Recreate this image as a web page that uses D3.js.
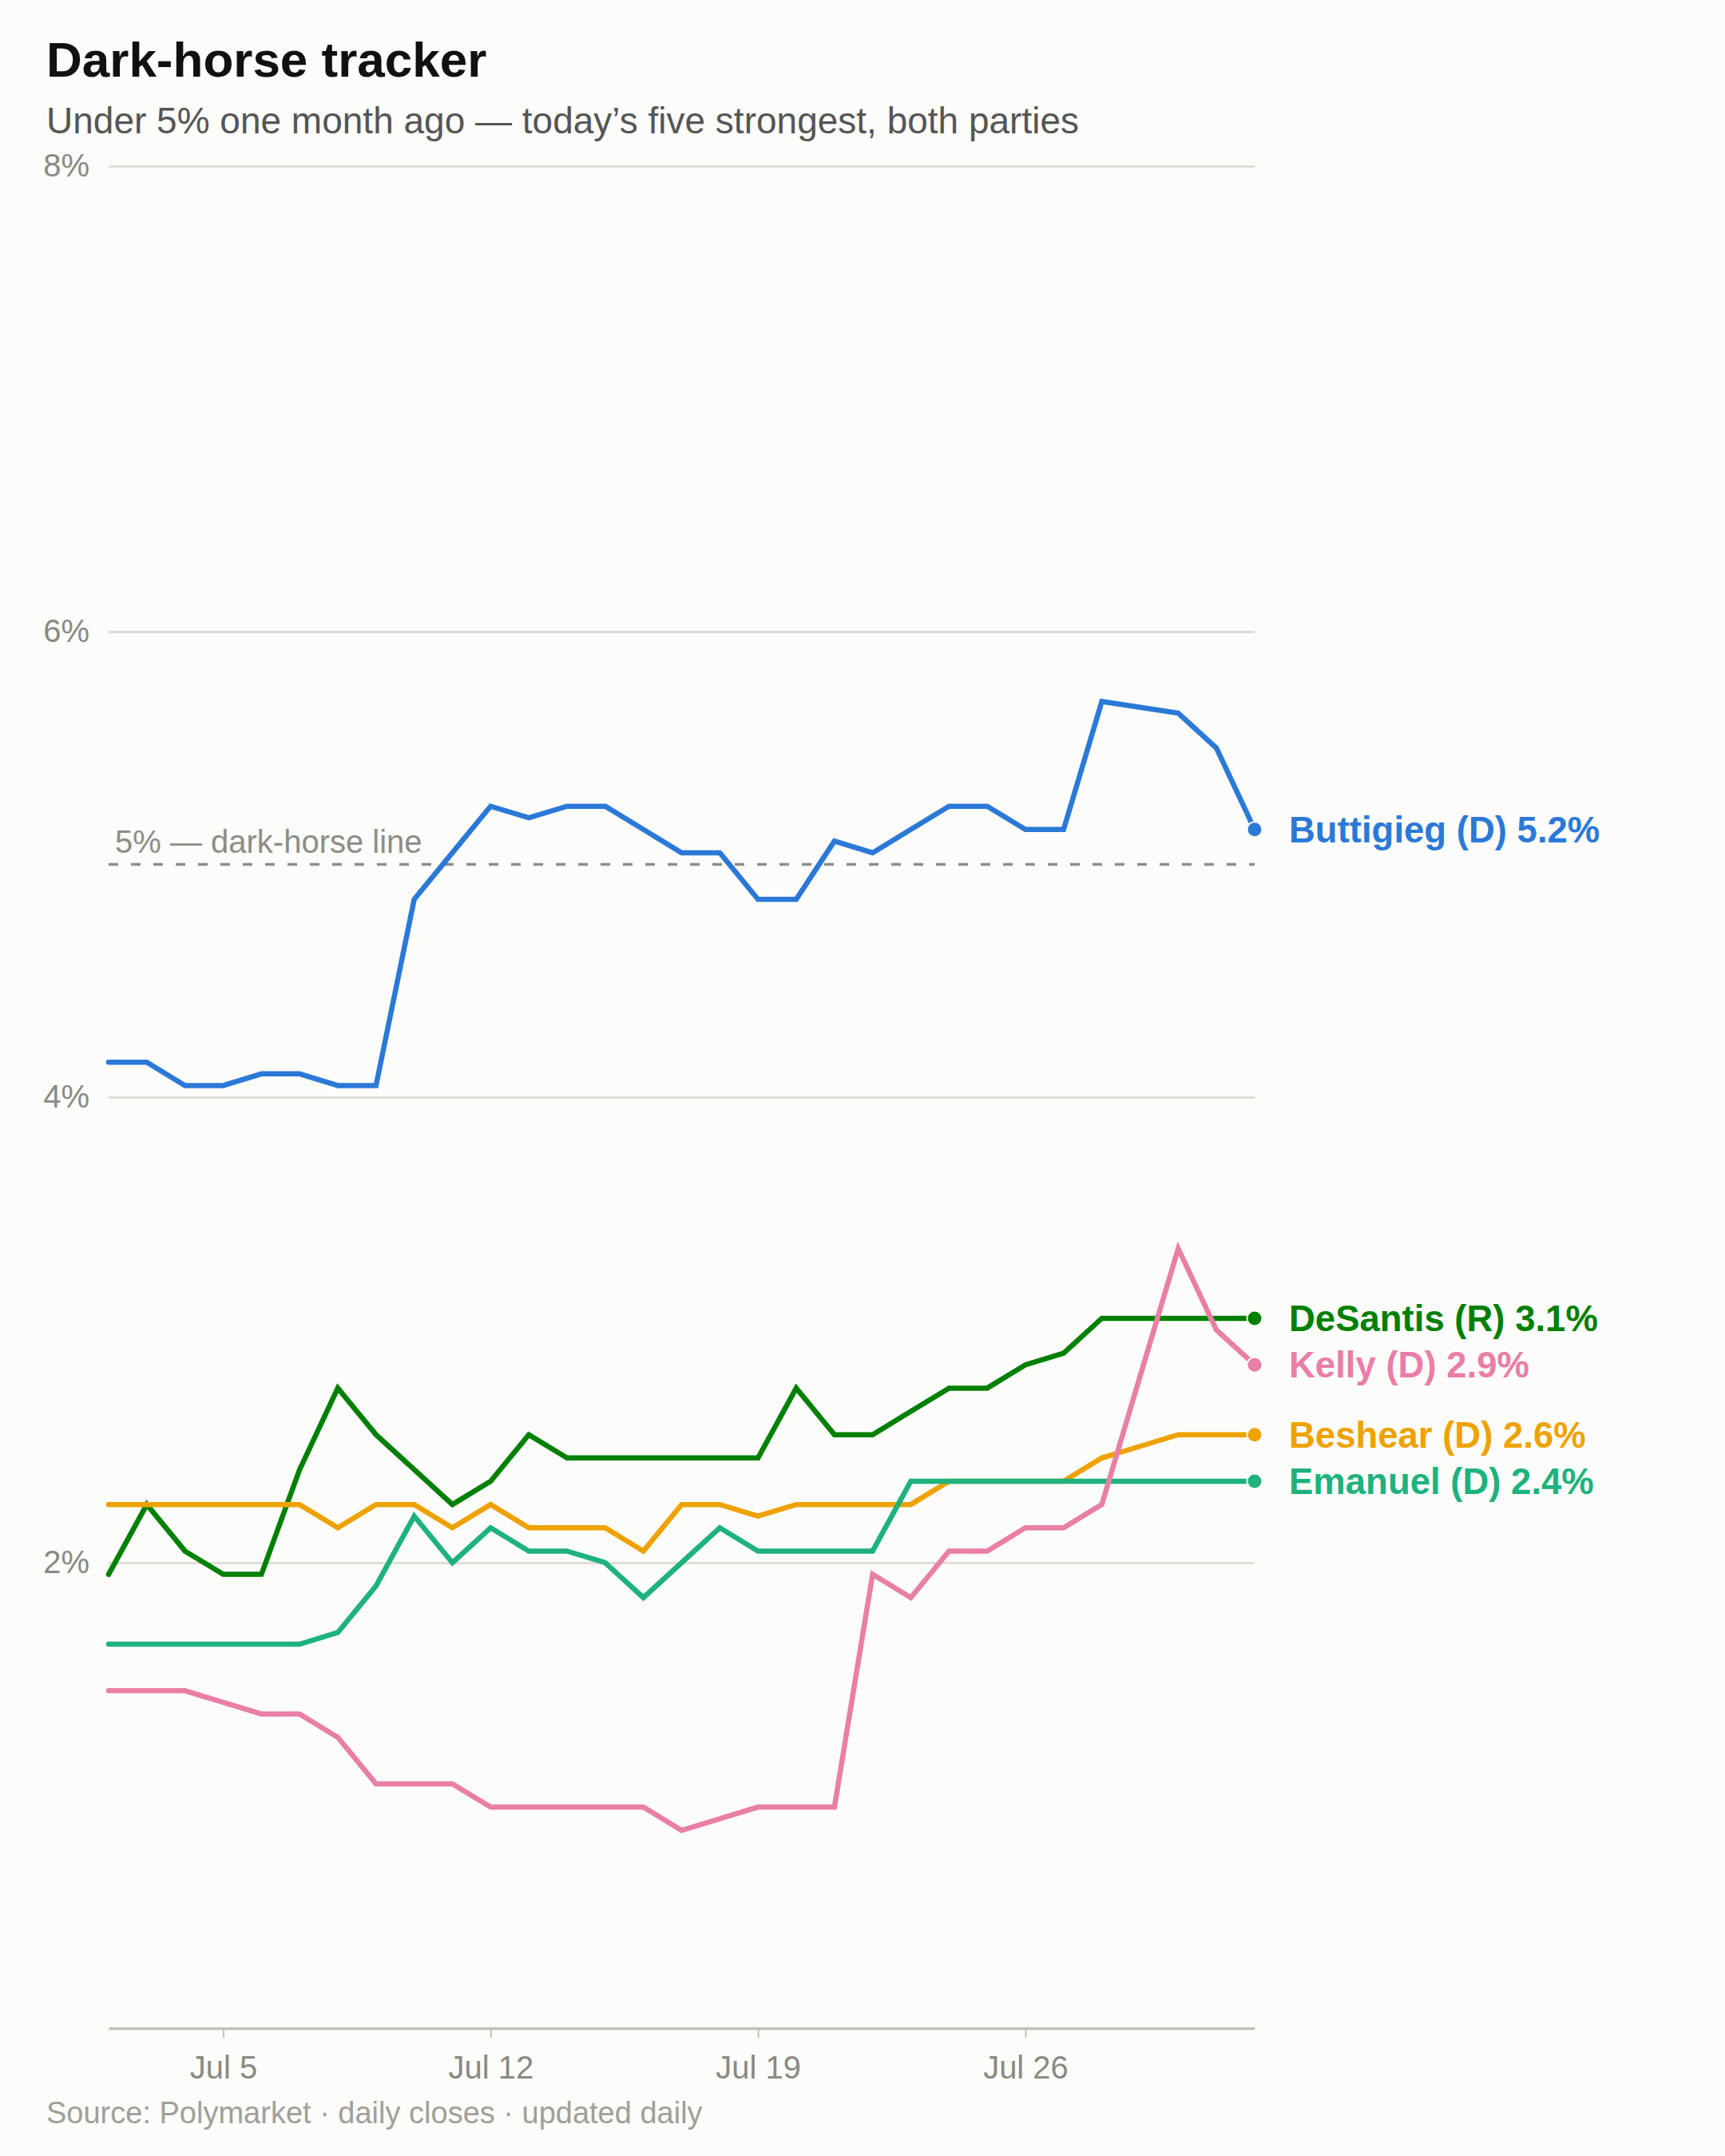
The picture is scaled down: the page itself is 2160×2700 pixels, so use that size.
<!DOCTYPE html>
<html>
<head>
<meta charset="utf-8">
<script src="https://cdn.jsdelivr.net/npm/d3@7"></script>
<style>
  body { margin: 0; background: #fcfcfa; }
  text { font-family: "Liberation Sans", Arial, sans-serif; }
</style>
</head>
<body>
<svg id="chart"></svg>
<script>
// Daily closes, Jul 2 - Aug 1
const startDay = new Date(2024, 6, 2),
      endDay = new Date(2024, 7, 2);
const days = d3.timeDay.range(startDay, endDay);

const names = ["Buttigieg (D)", "DeSantis (R)", "Beshear (D)", "Emanuel (D)", "Kelly (D)"];
const colors = ["#2b79d7", "#008000", "#eea200", "#1eb27d", "#e97ea6"];

const buttigieg = [4.15, 4.15, 4.05, 4.05, 4.1, 4.1, 4.05, 4.05, 4.85, 5.05, 5.25, 5.2, 5.25, 5.25, 5.15, 5.05,
                   5.05, 4.85, 4.85, 5.1, 5.05, 5.15, 5.25, 5.25, 5.15, 5.15, 5.7, 5.675, 5.65, 5.5, 5.15];
const desantis  = [1.95, 2.25, 2.05, 1.95, 1.95, 2.4, 2.75, 2.55, 2.4, 2.25, 2.35, 2.55, 2.45, 2.45, 2.45, 2.45,
                   2.45, 2.45, 2.75, 2.55, 2.55, 2.65, 2.75, 2.75, 2.85, 2.9, 3.05, 3.05, 3.05, 3.05, 3.05];
const beshear   = [2.25, 2.25, 2.25, 2.25, 2.25, 2.25, 2.15, 2.25, 2.25, 2.15, 2.25, 2.15, 2.15, 2.15, 2.05, 2.25,
                   2.25, 2.2, 2.25, 2.25, 2.25, 2.25, 2.35, 2.35, 2.35, 2.35, 2.45, 2.5, 2.55, 2.55, 2.55];
const emanuel   = [1.65, 1.65, 1.65, 1.65, 1.65, 1.65, 1.7, 1.9, 2.2, 2.0, 2.15, 2.05, 2.05, 2.0, 1.85, 2.0,
                   2.15, 2.05, 2.05, 2.05, 2.05, 2.35, 2.35, 2.35, 2.35, 2.35, 2.35, 2.35, 2.35, 2.35, 2.35];
const kelly     = [1.45, 1.45, 1.45, 1.4, 1.35, 1.35, 1.25, 1.05, 1.05, 1.05, 0.95, 0.95, 0.95, 0.95, 0.95, 0.85,
                   0.9, 0.95, 0.95, 0.95, 1.95, 1.85, 2.05, 2.05, 2.15, 2.15, 2.25, 2.8, 3.35, 3.0, 2.85];
const seriesValues = [buttigieg, desantis, beshear, emanuel, kelly];

const yTicks = [2, 4, 6, 8];
const xTicks = [new Date(2024, 6, 5), new Date(2024, 6, 12), new Date(2024, 6, 19), new Date(2024, 6, 26)];
const threshold = 5;

// Canvas
const W = 2160, H = 2700;
const margin = {top: 208, right: 589, bottom: 160, left: 136},
      width = W - margin.left - margin.right,
      height = H - margin.top - margin.bottom;

const svg = d3.select("#chart")
    .attr("width", W)
    .attr("height", H)
    .attr("viewBox", [0, 0, W, H]);

svg.append("rect").attr("width", W).attr("height", H).attr("fill", "#fcfcfa");

svg.append("text")
    .attr("x", 58).attr("y", 96)
    .attr("font-size", 62).attr("font-weight", "bold").attr("fill", "#111")
    .text("Dark-horse tracker");
svg.append("text")
    .attr("x", 58).attr("y", 167)
    .attr("font-size", 46).attr("fill", "#555")
    .text("Under 5% one month ago — today’s five strongest, both parties");
svg.append("text")
    .attr("x", 58).attr("y", 2659)
    .attr("font-size", 38).attr("fill", "#a09f98")
    .text("Source: Polymarket · daily closes · updated daily");

const g = svg.append("g")
    .attr("transform", `translate(${margin.left},${margin.top})`);

// Scales
const x = d3.scaleTime()
    .domain(d3.extent(days))
    .range([0, width]);
const y = d3.scaleLinear()
    .domain([0, 8])
    .range([height, 0]);

// Gridlines + y labels
const yAxis = g.append("g")
    .call(d3.axisLeft(y).tickValues(yTicks).tickSize(-width).tickPadding(24).tickFormat(d => d + "%"));
yAxis.select(".domain").remove();
yAxis.selectAll(".tick line").attr("stroke", "#dfded6").attr("stroke-width", 3);
yAxis.selectAll(".tick text")
    .attr("font-size", 40).attr("fill", "#8a8983")
    .attr("font-family", "Liberation Sans, Arial, sans-serif");

// x axis
const xAxis = g.append("g")
    .attr("transform", `translate(0,${height})`)
    .call(d3.axisBottom(x).tickValues(xTicks).tickSize(12).tickSizeOuter(0).tickPadding(23)
      .tickFormat(d3.timeFormat("%b %-d")));
xAxis.select(".domain").attr("stroke", "#c2c1b5").attr("stroke-width", 3.5);
xAxis.selectAll(".tick line").attr("stroke", "#c2c1b5").attr("stroke-width", 2);
xAxis.selectAll(".tick text")
    .attr("font-size", 40).attr("fill", "#8a8983")
    .attr("font-family", "Liberation Sans, Arial, sans-serif");

// 5% threshold
g.append("line")
    .attr("x1", 0).attr("x2", width)
    .attr("y1", y(threshold)).attr("y2", y(threshold))
    .attr("stroke", "#8e8d86").attr("stroke-width", 3.5)
    .attr("stroke-dasharray", "12,16");
g.append("text")
    .attr("x", 8).attr("y", y(threshold) - 15)
    .attr("font-size", 40).attr("fill", "#8e8d86")
    .text("5% — dark-horse line");

// Lines
const line = d3.line()
    .x((d, i) => x(days[i]))
    .y(d => y(d));

const roundLabel = v => (Math.round(v * 10 + 1e-6) / 10).toFixed(1);

seriesValues.forEach((vals, k) => {
  g.append("path")
      .datum(vals)
      .attr("fill", "none")
      .attr("stroke", colors[k])
      .attr("stroke-width", 6.5)
      .attr("stroke-linecap", "round")
      .attr("d", line);

  const last = vals[vals.length - 1],
        lx = x(days[days.length - 1]),
        ly = y(last);

  g.append("circle")
      .attr("cx", lx).attr("cy", ly).attr("r", 9.5)
      .attr("fill", colors[k])
      .attr("stroke", "#fcfcfa").attr("stroke-width", 2);

  g.append("text")
      .attr("x", lx + 43).attr("y", ly)
      .attr("dy", "0.35em")
      .attr("font-size", 45.5).attr("font-weight", "bold")
      .attr("fill", colors[k])
      .text(names[k] + " " + roundLabel(last) + "%");
});
</script>
</body>
</html>
